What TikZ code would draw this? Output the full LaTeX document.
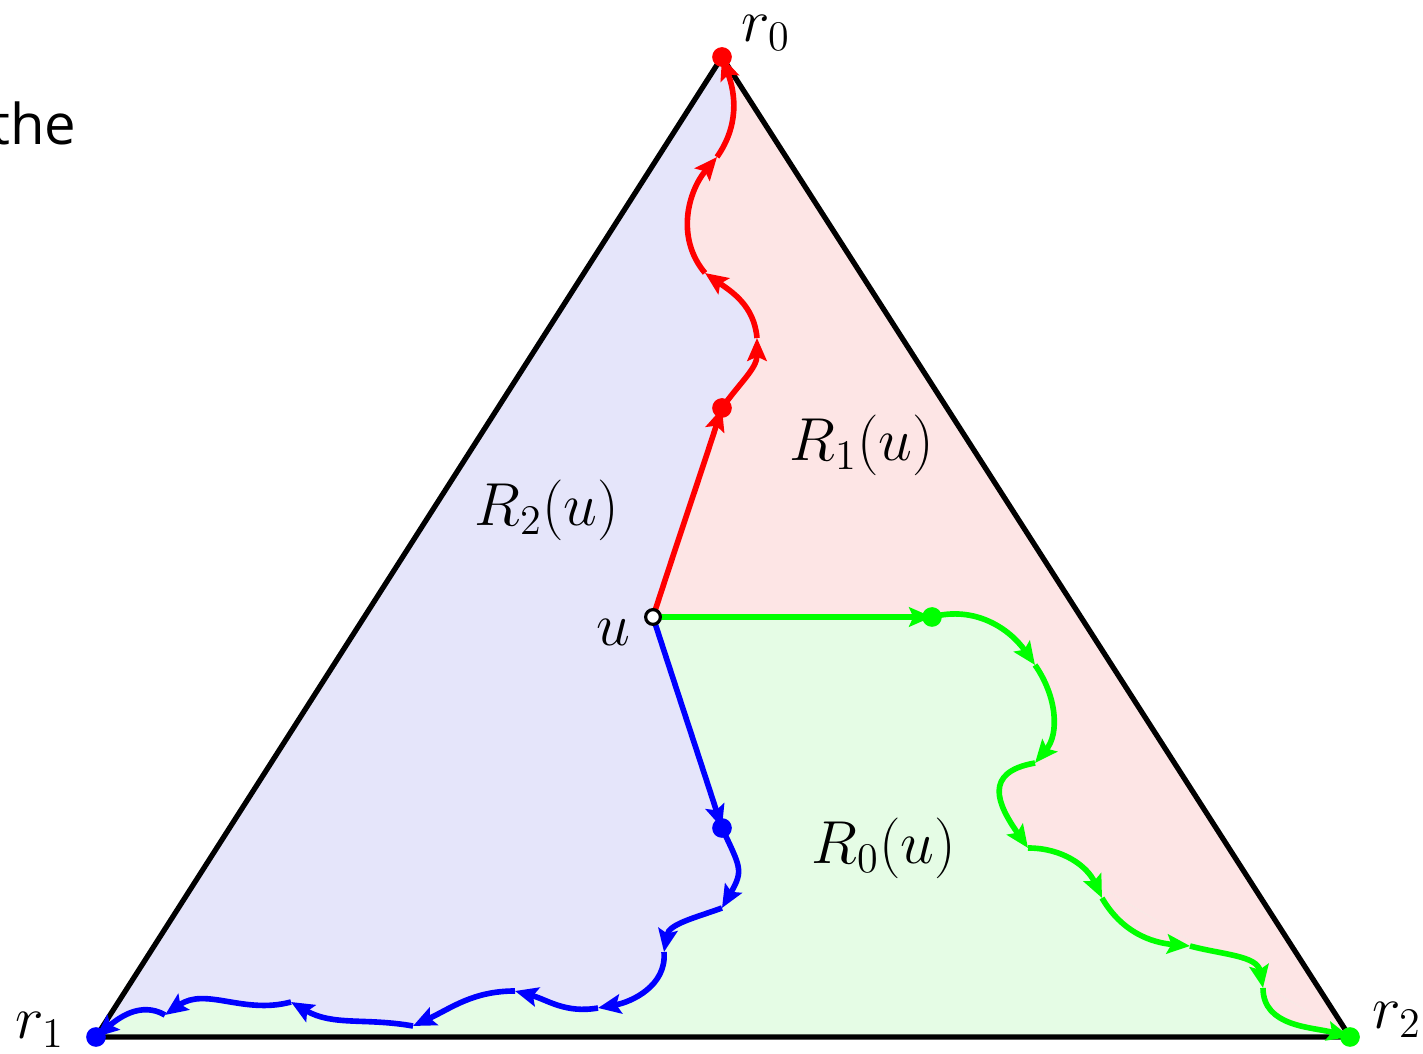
\documentclass[tikz,border=0pt]{standalone}
\usepackage{amsmath,amssymb}
\usepackage{fontspec}
\usepackage{tikz}
\usetikzlibrary{arrows.meta, calc}
\newfontfamily\sidefont{Open Sans}
\definecolor{C_RED}{HTML}{FF0000}
\definecolor{C_GRN}{HTML}{00FF00}
\definecolor{C_BLU}{HTML}{0000FF}
\definecolor{RG_RED}{HTML}{FDE5E5}
\definecolor{RG_GRN}{HTML}{E5FCE5}
\definecolor{RG_BLU}{HTML}{E5E5FA}
\tikzset{
  %% -- triangle outline --
  TR/edge/.style={draw=black, line width=1.5pt, line join=miter},
  %% -- coloured path piece, arrow at its end --
  TR/seg/.style={draw=#1, line width=1.6pt,
    -{Stealth[length=6.5pt, width=5.5pt, inset=1.2pt]}},
  %% -- filled vertex dot --
  TR/dot/.style={circle, fill=#1, inner sep=0pt, minimum size=5.6pt},
  %% -- open vertex --
  TR/open/.style={circle, draw=black, fill=white, line width=0.9pt,
    inner sep=0pt, minimum size=4.2pt},
  %% -- math labels --
  TR/lbl/.style={inner sep=0pt, font=\fontsize{16.5}{20}\selectfont},
}

\begin{document}
\begin{tikzpicture}[x=1cm, y=1cm]

\useasboundingbox (0,0) rectangle (14.23,10.54);

%% ── Corners and the inner vertex ───────────────────────────────────────────
\coordinate (r0) at (7.22,9.97);
\coordinate (r1) at (0.96,0.17);
\coordinate (r2) at (13.50,0.17);
\coordinate (u)  at (6.53,4.37);

%% ── Path vertices (red up, green right, blue down-left) ────────────────────
\coordinate (a1) at (7.22,6.46);
\coordinate (a2) at (7.57,7.16);
\coordinate (a3) at (7.05,7.81);
\coordinate (a4) at (7.17,8.97);

\coordinate (g1) at (9.32,4.37);
\coordinate (g2) at (10.35,3.89);
\coordinate (g3) at (10.35,2.91);
\coordinate (g4) at (10.28,2.06);
\coordinate (g5) at (11.02,1.56);
\coordinate (g6) at (11.90,1.08);
\coordinate (g7) at (12.63,0.66);

\coordinate (b1) at (7.22,2.26);
\coordinate (b2) at (7.22,1.46);
\coordinate (b3) at (6.64,1.02);
\coordinate (b4) at (5.98,0.46);
\coordinate (b5) at (5.15,0.63);
\coordinate (b6) at (4.13,0.28);
\coordinate (b7) at (2.91,0.52);
\coordinate (b8) at (1.65,0.39);

%% pieces: from/to/out/in/looseness
\def\segRed{u/a1/72/252/1, a1/a2/55/270/1, a2/a3/95/325/1,
  a3/a4/130/230/1, a4/r0/55/290/1}
\def\segGrn{u/g1/0/180/1, g1/g2/15/125/1, g2/g3/-55/50/1,
  g3/g4/190/125/1.6, g4/g5/0/115/1, g5/g6/-60/175/1,
  g6/g7/-15/100/1, g7/r2/-90/165/1}
\def\segBlu{u/b1/-72/108/1, b1/b2/-65/60/1.4, b2/b3/200/80/1,
  b3/b4/-85/10/1, b4/b5/190/-15/1, b5/b6/180/25/1,
  b6/b7/170/-30/1, b7/b8/195/35/1, b8/r1/150/40/1}

%% ── Regions ────────────────────────────────────────────────────────────────
\fill[RG_RED] (r0) -- (r1) -- (r2) -- cycle;
\fill[RG_BLU, even odd rule]
  (u) foreach \p/\q/\o/\i/\l in \segRed {to[out=\o, in=\i, looseness=\l] (\q)}
  -- (r1) -- cycle
  (u) foreach \p/\q/\o/\i/\l in \segBlu {to[out=\o, in=\i, looseness=\l] (\q)}
  -- cycle;
\fill[RG_GRN, even odd rule]
  (u) foreach \p/\q/\o/\i/\l in \segBlu {to[out=\o, in=\i, looseness=\l] (\q)}
  -- (r2) -- cycle
  (u) foreach \p/\q/\o/\i/\l in \segGrn {to[out=\o, in=\i, looseness=\l] (\q)}
  -- cycle;

%% ── Triangle ───────────────────────────────────────────────────────────────
\draw[TR/edge] (r0) -- (r1) -- (r2) -- cycle;

%% ── Coloured paths ─────────────────────────────────────────────────────────
\foreach \p/\q/\o/\i/\l in \segRed
  \draw[TR/seg=C_RED] (\p) to[out=\o, in=\i, looseness=\l] (\q);
\foreach \p/\q/\o/\i/\l in \segGrn
  \draw[TR/seg=C_GRN] (\p) to[out=\o, in=\i, looseness=\l] (\q);
\foreach \p/\q/\o/\i/\l in \segBlu
  \draw[TR/seg=C_BLU] (\p) to[out=\o, in=\i, looseness=\l] (\q);

%% ── Dots ───────────────────────────────────────────────────────────────────
\node[TR/dot=C_RED] (dr0) at (r0) {};
\node[TR/dot=C_RED] (da1) at (a1) {};
\node[TR/dot=C_GRN] (dr2) at (r2) {};
\node[TR/dot=C_GRN] (dg1) at (g1) {};
\node[TR/dot=C_BLU] (dr1) at (r1) {};
\node[TR/dot=C_BLU] (db1) at (b1) {};
\node[TR/open] (du) at (u) {};

%% ── Labels ─────────────────────────────────────────────────────────────────
\node[TR/lbl] (lr0) at (7.66,10.21) {$r_0$};
\node[TR/lbl] (lr1) at (0.40,0.24) {$r_1$};
\node[TR/lbl] (lr2) at (13.97,0.34) {$r_2$};
\node[TR/lbl] (lu)  at (6.13,4.22) {$u$};
\node[TR/lbl] (lR1) at (8.62,6.09) {$R_1(u)$};
\node[TR/lbl] (lR2) at (5.47,5.44) {$R_2(u)$};
\node[TR/lbl] (lR0) at (8.84,2.06) {$R_0(u)$};

%% cut-off word from the surrounding page
\node[inner sep=0pt, anchor=base east, font=\sidefont\fontsize{16}{19}\selectfont]
  (side) at (0.77,9.09) {the};

\end{tikzpicture}
\end{document}
